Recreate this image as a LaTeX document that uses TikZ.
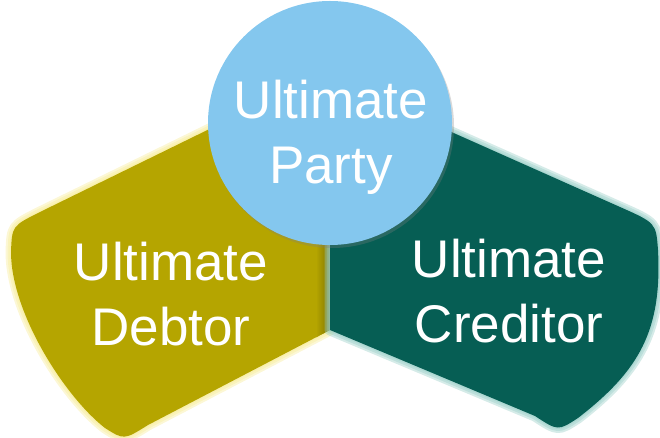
\documentclass[tikz,border=0pt]{standalone}
\usepackage{fontspec}
\setmainfont{Liberation Sans}
\usetikzlibrary{shadows}

\definecolor{debtorolive}{RGB}{181,165,0}
\definecolor{debtorglow}{RGB}{247,236,150}
\definecolor{creditorteal}{RGB}{6,94,84}
\definecolor{creditorglow}{RGB}{150,205,198}
\definecolor{partyblue}{RGB}{132,199,238}

% outlines of the two side blocks
\newcommand{\debtorshape}{(330,70) -- (40,212) .. controls (12,226) .. (11,252)
    .. controls (11,312) and (64,396) .. (105,428) .. controls (124,440) .. (148,425)
    -- (330,330) -- cycle}
\newcommand{\creditorshape}{(330,78) -- (620,207) .. controls (656,223) .. (658,250)
    .. controls (662,330) and (640,370) .. (578,418) .. controls (558,431) .. (535,416)
    -- (330,330) -- cycle}

\begin{document}
\begin{tikzpicture}[x=1pt, y=-1pt,
    glowline/.style={line width=#1, line join=round, opacity=0.4},
    bigtext/.style={text=white, align=center, inner sep=0pt,
        font=\fontsize{53}{65}\selectfont},
    partycircle/.style={circle, fill=partyblue, minimum size=244pt, inner sep=0pt,
        drop shadow={shadow xshift=2pt, shadow yshift=-3pt, opacity=0.3}}]
    \useasboundingbox (0,0) rectangle (660,438);

    % --- ULTIMATE DEBTOR (LEFT) ---
    \draw[debtorglow, glowline=11pt] \debtorshape;
    \draw[debtorglow, glowline=7pt] \debtorshape;
    \draw[debtorglow, glowline=3pt] \debtorshape;
    \fill[debtorolive] \debtorshape;
    \begin{scope}
        \clip \debtorshape;
        \shade[left color=debtorolive, right color=debtorolive!70!black] (316,60) rectangle (330,340);
    \end{scope}

    % --- ULTIMATE CREDITOR (RIGHT) ---
    \draw[creditorglow, glowline=11pt] \creditorshape;
    \draw[creditorglow, glowline=7pt] \creditorshape;
    \draw[creditorglow, glowline=3pt] \creditorshape;
    \fill[creditorteal] \creditorshape;

    % --- ULTIMATE PARTY (TOP) ---
    \node[partycircle] (party) at (330,123) {};

    % Labels
    \node[bigtext] (partytext) at (331,137) {Ultimate\\Party};
    \node[bigtext] (debtortext) at (171,294) {Ultimate\\Debtor};
    \node[bigtext] (creditortext) at (509,291) {Ultimate\\Creditor};
\end{tikzpicture}
\end{document}
